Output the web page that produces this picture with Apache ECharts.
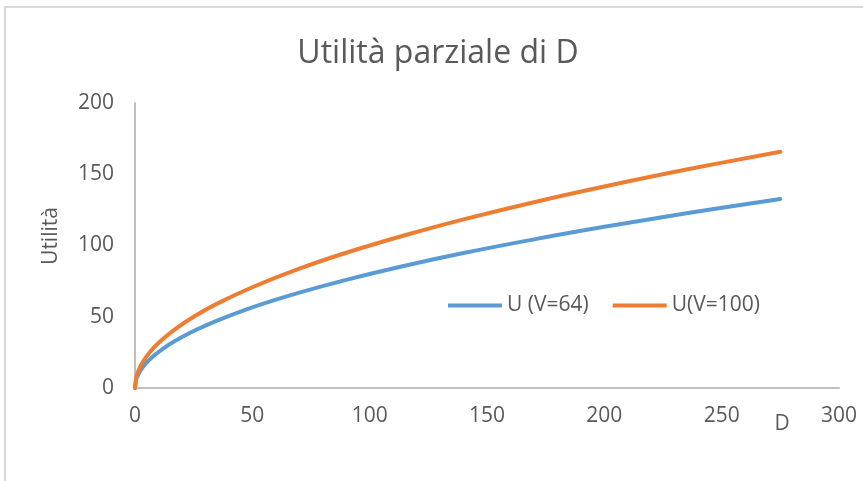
<!DOCTYPE html>
<html>
<head>
<meta charset="utf-8">
<script src="https://cdn.jsdelivr.net/npm/echarts@6/dist/echarts.min.js"></script>
<style>
  html, body { margin: 0; padding: 0; background: #fff; }
  #chart { width: 863px; height: 481px; }
</style>
</head>
<body>
<div id="chart"></div>
<script>
// valori
const dValues = [0, 0.5, 1, 2, 3, 5, 8, 12, 17, 25, 35, 50, 70, 90, 115, 140, 170, 200, 235, 275];
const uV64 = [0, 5.7, 8, 11.3, 13.9, 17.9, 22.6, 27.7, 33, 40, 47.3, 56.6, 66.9, 75.9, 85.8, 94.7, 104.3, 113.1, 122.6, 132.7];
const uV100 = [0, 7.1, 10, 14.1, 17.3, 22.4, 28.3, 34.6, 41.2, 50, 59.2, 70.7, 83.7, 94.9, 107.2, 118.3, 130.4, 141.4, 153.3, 165.8];
const seriesNames = ['U (V=64)', 'U(V=100)'];
const titleText = 'Utilità parziale di D';
const yName = 'Utilità';
const xName = 'D';

const textColor = '#595959';
const font = '"Open Sans", sans-serif';

function pairs(ys) {
  return dValues.map((d, i) => [d, ys[i]]);
}

const chart = echarts.init(document.getElementById('chart'), null, { renderer: 'canvas' });

const option = {
  animation: false,
  backgroundColor: '#fff',
  grid: { left: 135, right: 24, top: 103, bottom: 93 },
  legend: {
    left: 443,
    top: 290,
    icon: 'rect',
    itemWidth: 54,
    itemHeight: 4,
    itemGap: 24,
    textStyle: { color: textColor, fontSize: 21, fontFamily: font },
    data: seriesNames
  },
  xAxis: {
    type: 'value',
    min: 0,
    max: 300,
    interval: 50,
    axisLine: { show: true, lineStyle: { color: '#BFBFBF', width: 2 } },
    axisTick: { show: false },
    splitLine: { show: false },
    axisLabel: { color: textColor, fontSize: 21, fontFamily: font, margin: 18 }
  },
  yAxis: {
    type: 'value',
    min: 0,
    max: 200,
    interval: 50,
    axisLine: { show: true, lineStyle: { color: '#BFBFBF', width: 2 } },
    axisTick: { show: false },
    splitLine: { show: false },
    axisLabel: { color: textColor, fontSize: 21, fontFamily: font, margin: 21 }
  },
  graphic: [
    {
      type: 'rect',
      silent: true,
      shape: { x: 5, y: 7, width: 900, height: 520 },
      style: { fill: 'none', stroke: '#D9D9D9', lineWidth: 2 }
    },
    {
      type: 'text',
      x: 438, y: 54,
      style: {
        text: titleText, fill: textColor, fontSize: 32,
        fontFamily: font, textAlign: 'center', textVerticalAlign: 'middle'
      }
    },
    {
      type: 'text',
      x: 51, y: 236,
      rotation: Math.PI / 2,
      style: {
        text: yName, fill: textColor, fontSize: 21, fontFamily: font,
        textAlign: 'center', textVerticalAlign: 'middle'
      }
    },
    {
      type: 'text',
      x: 782, y: 424,
      style: {
        text: xName, fill: textColor, fontSize: 21, fontFamily: font,
        textAlign: 'center', textVerticalAlign: 'middle'
      }
    }
  ],
  series: [
    {
      name: seriesNames[0],
      type: 'line',
      data: pairs(uV64),
      showSymbol: false,
      smooth: 0.4,
      color: '#5B9BD5',
      lineStyle: { width: 4, cap: 'round' }
    },
    {
      name: seriesNames[1],
      type: 'line',
      data: pairs(uV100),
      showSymbol: false,
      smooth: 0.4,
      color: '#ED7D31',
      lineStyle: { width: 4, cap: 'round' }
    }
  ]
};

chart.setOption(option);
</script>
</body>
</html>
